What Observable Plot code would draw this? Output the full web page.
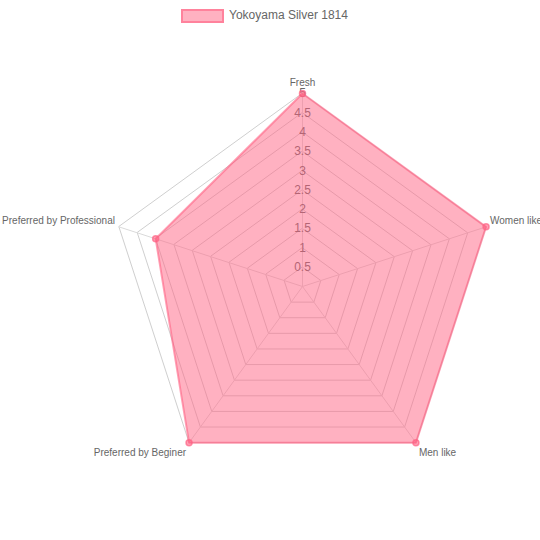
<!DOCTYPE html>
<html>
<head>
<meta charset="utf-8">
<script src="https://cdn.jsdelivr.net/npm/d3@7"></script>
<script src="https://cdn.jsdelivr.net/npm/@observablehq/plot@0.6"></script>
<style>
  body { margin: 0; background: #fff; font-family: "Liberation Sans", Arial, sans-serif; }
  #legend { position: relative; width: 540px; height: 30px; }
  #legend .box { position: absolute; left: 181px; top: 9px; width: 39px; height: 10px;
    background: rgba(255,99,132,0.5); border: 2px solid rgba(255,99,132,0.6); }
  #legend .txt { position: absolute; left: 229px; top: 8px; font-size: 12px; color: #666; }
</style>
</head>
<body>
<div id="legend"><div class="box"></div><div class="txt">Yokoyama Silver 1814</div></div>
<div id="chart"></div>
<script>
const labels = ["Fresh", "Women like", "Men like", "Preferred by Beginer", "Preferred by Professional"]
const values = [5, 5, 5, 5, 4]
const ticks = [0.5, 1, 1.5, 2, 2.5, 3, 3.5, 4, 4.5, 5]
const seriesName = "Yokoyama Silver 1814"

// polar -> cartesian, angle 0 at the top, clockwise
const ang = i => i * 2 * Math.PI / labels.length
const px = (i, r) => r * Math.sin(ang(i))
const py = (i, r) => r * Math.cos(ang(i))

const grid = ticks.flatMap(t => labels.map((l, i) => ({level: t, x: px(i, t), y: py(i, t)})))
const spokes = labels.map((l, i) => ({x: px(i, 5), y: py(i, 5)}))
const pts = labels.map((l, i) => ({label: l, v: values[i], x: px(i, values[i]), y: py(i, values[i])}))
const lab = labels.map((l, i) => ({label: l, i, x: px(i, 5), y: py(i, 5)}))

const font = "Liberation Sans, Arial, sans-serif"

let chart = Plot.plot({
  width: 540,
  height: 510,
  margin: 0,
  x: {domain: [-5, 5], range: [109, 495], axis: null},
  y: {domain: [-5, 5], range: [449, 63], axis: null},
  style: {fontFamily: font, background: "#fff", overflow: "visible"},
  marks: [
    Plot.line(grid, {x: "x", y: "y", z: "level", curve: "linear-closed", stroke: "#cfcfcf", strokeWidth: 1}),
    Plot.link(spokes, {x1: 0, y1: 0, x2: "x", y2: "y", stroke: "#dadada", strokeWidth: 1}),
    Plot.text(ticks, {x: 0, y: d => d, text: d => String(d), fill: "#666", fontSize: 12}),
    Plot.line(pts, {x: "x", y: "y", curve: "linear-closed", fill: "rgba(255,99,132,0.5)",
      stroke: "rgba(255,99,132,0.6)", strokeWidth: 2}),
    Plot.dot(pts, {x: "x", y: "y", r: 3, fill: "rgba(255,99,132,0.6)", stroke: "rgba(255,99,132,0.7)"}),
    // axis labels
    Plot.text(lab.filter(d => d.i === 0), {x: "x", y: "y", text: "label", fill: "#666", fontSize: 10, dy: -11}),
    Plot.text(lab.filter(d => d.i === 1), {x: "x", y: "y", text: "label", fill: "#666", fontSize: 10, textAnchor: "start", dx: 4, dy: -6}),
    Plot.text(lab.filter(d => d.i === 2), {x: "x", y: "y", text: "label", fill: "#666", fontSize: 10, textAnchor: "start", dx: 3, dy: 10}),
    Plot.text(lab.filter(d => d.i === 3), {x: "x", y: "y", text: "label", fill: "#666", fontSize: 10, textAnchor: "end", dx: -3, dy: 10}),
    Plot.text(lab.filter(d => d.i === 4), {x: "x", y: "y", text: "label", fill: "#666", fontSize: 10, textAnchor: "end", dx: -4, dy: -6})
  ]
})
d3.select('#chart').append(() => chart)
</script>
</body>
</html>
